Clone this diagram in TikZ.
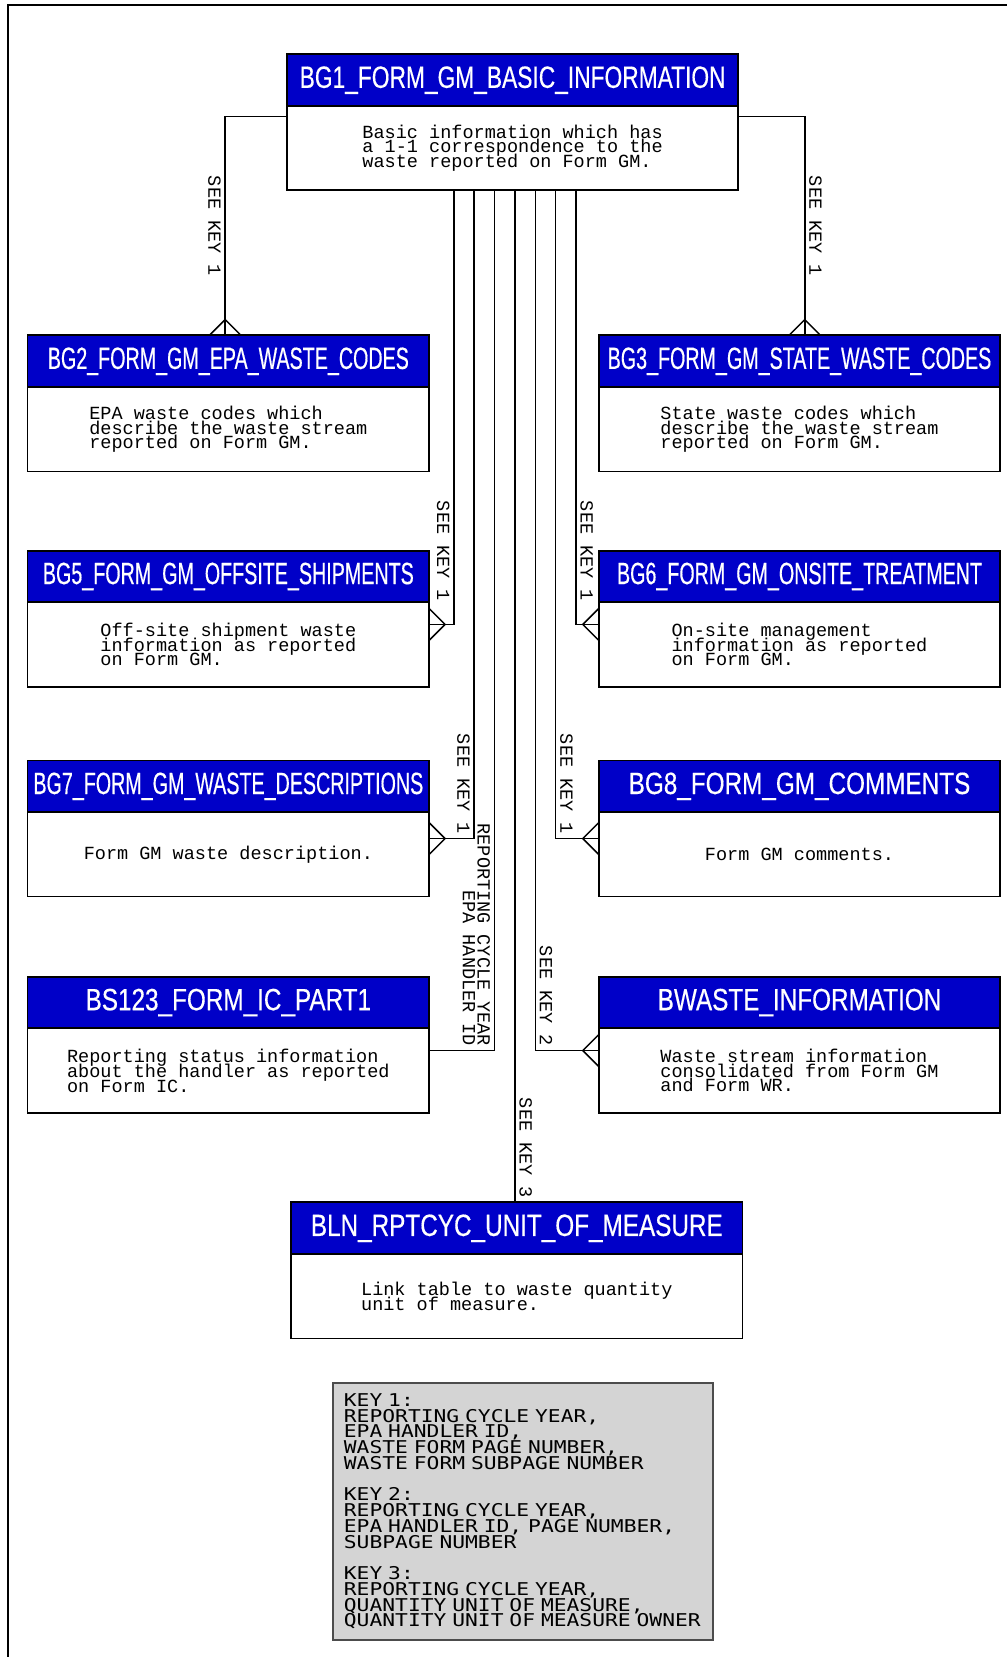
\documentclass[tikz,border=0pt]{standalone}
\usepackage{fontspec}
\usetikzlibrary{positioning, calc}
\newfontfamily\hdrfont[FakeStretch=0.74, FakeBold=0.4]{Liberation Sans}
\newfontfamily\hdrnarrow[FakeStretch=0.64, FakeBold=0.4]{Liberation Sans}
\newfontfamily\hdrwide[FakeStretch=0.79, FakeBold=0.4]{Liberation Sans}
\newfontfamily\monofont{Liberation Mono}
\newfontfamily\keyfont[FakeStretch=1.21]{DejaVu Sans Mono}
\newcommand{\tight}{\lineskiplimit=-\maxdimen}
\definecolor{hdrblue}{RGB}{0,0,200}
\definecolor{keygray}{RGB}{212,212,212}

\tikzset{
    hdr/.style={draw, fill=hdrblue, text=white, line width=1pt, outer sep=0pt,
        minimum width=7.62cm, minimum height=0.98cm, inner sep=0pt,
        font=\hdrfont\fontsize{16.6}{18}\selectfont},
    body/.style={draw, fill=white, line width=1pt, outer sep=0pt,
        minimum width=7.62cm, minimum height=1.6cm, align=left,
        font=\monofont\fontsize{10}{8}\selectfont\tight},
    rel/.style={line width=0.8pt},
    keylbl/.style={rotate=-90, inner sep=2pt, font=\monofont\fontsize{10}{8}\selectfont\tight},
    keybox/.style={draw=black!70, fill=keygray, line width=1.2pt,
        minimum width=7.2cm, minimum height=4.86cm, text width=6.8cm, inner sep=0.2cm,
        align=left, font=\keyfont\fontsize{9.5}{8.5}\selectfont\tight},
    crow/.pic={\draw[rel] (-0.3cm,0) -- (0,0.3cm) -- (0.3cm,0);},
}

\begin{document}
\begin{tikzpicture}[x=0.02cm, y=-0.02cm]
    \useasboundingbox (0,0) rectangle (955,1571);
    \draw[line width=1.1pt] (8,1571) |- (955,5);

    \node[hdr, minimum width=8.56cm]                    (bg1)    at (486,76)      {BG1\_FORM\_GM\_BASIC\_INFORMATION};
    \node[body, minimum width=8.56cm, below=0pt of bg1] (bg1b)   {Basic information which has\\a 1-1 correspondence to the\\waste reported on Form GM.};
    \node[hdr, font=\hdrnarrow\fontsize{16.6}{18}\selectfont] (bg2) at (216.5,342.5) {BG2\_FORM\_GM\_EPA\_WASTE\_CODES};
    \node[body, below=0pt of bg2]                       (bg2b)   {EPA waste codes which\\describe the waste stream\\reported on Form GM.};
    \node[hdr, font=\hdrnarrow\fontsize{16.6}{18}\selectfont] (bg3) at (758,342.5) {BG3\_FORM\_GM\_STATE\_WASTE\_CODES};
    \node[body, below=0pt of bg3]                       (bg3b)   {State waste codes which\\describe the waste stream\\reported on Form GM.};
    \node[hdr, font=\hdrnarrow\fontsize{16.6}{18}\selectfont] (bg5) at (216.5,546.5) {BG5\_FORM\_GM\_OFFSITE\_SHIPMENTS};
    \node[body, below=0pt of bg5]                       (bg5b)   {Off-site shipment waste\\information as reported\\on Form GM.};
    \node[hdr, font=\hdrnarrow\fontsize{16.6}{18}\selectfont] (bg6) at (758,546.5) {BG6\_FORM\_GM\_ONSITE\_TREATMENT};
    \node[body, below=0pt of bg6]                       (bg6b)   {On-site management\\information as reported\\on Form GM.};
    \node[hdr, font=\hdrnarrow\fontsize{16.6}{18}\selectfont] (bg7) at (216.5,745.5) {BG7\_FORM\_GM\_WASTE\_DESCRIPTIONS};
    \node[body, below=0pt of bg7]                       (bg7b)   {Form GM waste description.};
    \node[hdr, font=\hdrwide\fontsize{16.6}{18}\selectfont] (bg8) at (758,745.5) {BG8\_FORM\_GM\_COMMENTS};
    \node[body, below=0pt of bg8]                       (bg8b)   {Form GM comments.};
    \node[hdr, font=\hdrwide\fontsize{16.6}{18}\selectfont] (bs123) at (216.5,950.5) {BS123\_FORM\_IC\_PART1};
    \node[body, below=0pt of bs123]                     (bs123b) {Reporting status information\\about the handler as reported\\on Form IC.};
    \node[hdr, font=\hdrwide\fontsize{16.6}{18}\selectfont] (bwaste) at (758,950.5) {BWASTE\_INFORMATION};
    \node[body, below=0pt of bwaste]                    (bwasteb) {Waste stream information\\consolidated from Form GM\\and Form WR.};
    \node[hdr, minimum width=8.56cm, font=\hdrwide\fontsize{16.6}{18}\selectfont] (bln) at (490,1164.5) {BLN\_RPTCYC\_UNIT\_OF\_MEASURE};
    \node[body, minimum width=8.56cm, below=0pt of bln] (blnb)   {Link table to waste quantity\\unit of measure.};

    \node[keybox] (key) at (496,1433) {KEY 1:\\REPORTING CYCLE YEAR,\\EPA HANDLER ID,\\WASTE FORM PAGE NUMBER,\\WASTE FORM SUBPAGE NUMBER\\[8.5pt]
        KEY 2:\\REPORTING CYCLE YEAR,\\EPA HANDLER ID, PAGE NUMBER,\\SUBPAGE NUMBER\\[8.5pt]
        KEY 3:\\REPORTING CYCLE YEAR,\\QUANTITY UNIT OF MEASURE,\\QUANTITY UNIT OF MEASURE OWNER};

    \foreach \i in {1,...,7}
        \coordinate (k\i) at ({411+19.3*\i},0);
    \coordinate (c2) at ($(bg2.north)+(-3,0)$);
    \coordinate (c3) at ($(bg3.north)+(5,0)$);

    \draw[rel] ($(bg1b.north west)+(0,10)$) -| node[keylbl, pos=0.75, anchor=north] {SEE KEY 1} (c2);
    \pic at (c2) {crow};
    \draw[rel] ($(bg1b.north east)+(0,10)$) -| node[keylbl, pos=0.75, anchor=south] {SEE KEY 1} (c3);
    \pic at (c3) {crow};

    \draw[rel] (bg1b.south -| k1) |- node[yshift=0.36cm, keylbl, pos=0.5, anchor=north east] {SEE KEY 1} ($(bg5b.north east)+(0,21)$);
    \pic[rotate=-90] at ($(bg5b.north east)+(0,21)$) {crow};
    \draw[rel] (bg1b.south -| k7) |- node[yshift=0.36cm, keylbl, pos=0.5, anchor=south east] {SEE KEY 1} ($(bg6b.north west)+(0,21)$);
    \pic[rotate=90] at ($(bg6b.north west)+(0,21)$) {crow};

    \draw[rel] (bg1b.south -| k2) |- node[keylbl, pos=0.5, anchor=north east] {SEE KEY 1} ($(bg7b.north east)+(0,25)$);
    \pic[rotate=-90] at ($(bg7b.north east)+(0,25)$) {crow};
    \draw[rel] (bg1b.south -| k6) |- node[keylbl, pos=0.5, anchor=south east] {SEE KEY 1} ($(bg8b.north west)+(0,25)$);
    \pic[rotate=90] at ($(bg8b.north west)+(0,25)$) {crow};

    \draw[rel] (bg1b.south -| k3) |- node[keylbl, pos=0.5, anchor=north east, align=right] {REPORTING CYCLE YEAR\\EPA HANDLER ID} ($(bs123b.north east)+(0,21)$);
    \draw[rel] (bg1b.south -| k5) |- node[keylbl, pos=0.5, anchor=south east] {SEE KEY 2} ($(bwasteb.north west)+(0,21)$);
    \pic[rotate=90] at ($(bwasteb.north west)+(0,21)$) {crow};

    \draw[rel] (bg1b.south -| k4) -- node[keylbl, pos=1, anchor=south east] {SEE KEY 3} (bln.north -| k4);
\end{tikzpicture}
\end{document}
